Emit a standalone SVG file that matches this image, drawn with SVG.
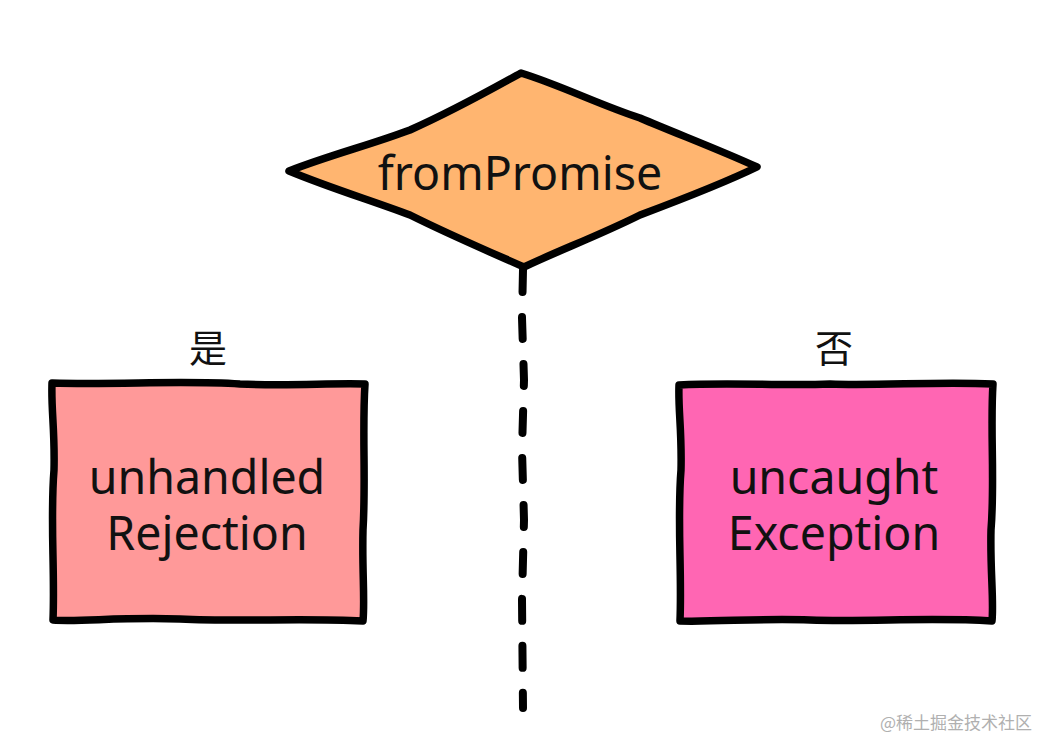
<svg xmlns="http://www.w3.org/2000/svg" width="1046" height="740" viewBox="0 0 1046 740">
<style>
.shape{stroke:#000;stroke-width:7.5;stroke-linejoin:round;stroke-linecap:round}
.t{font-family:"Noto Sans","Open Sans",sans-serif;font-size:46.5px;fill:#111;text-anchor:middle}
.lbl{font-family:"Noto Sans CJK SC",sans-serif;font-size:38px;fill:#111;text-anchor:middle}
.wm{font-family:"Noto Sans CJK SC",sans-serif;font-size:17px;fill:#b0b0b0}
</style>
<rect width="1046" height="740" fill="#fff"/>
<g id="connectors">
<path d="M523,270 L522,318 L524,380 L522,450 L524,520 L522,600 L523,708" fill="none" stroke="#000" stroke-width="8" stroke-linecap="round" stroke-dasharray="22,25"/>
</g>
<g id="decision">
<path class="shape" fill="#FFB570" d="M289,171 C330,155 370,145 410,130 C455,110 490,90 521,73 C560,85 600,105 640,118 C680,135 720,150 757,167 C720,185 680,200 640,215 C600,235 560,250 524,267 C490,252 450,235 410,215 C370,200 330,188 289,171 Z"/>
<text class="t" x="520" y="190">fromPromise</text>
</g>
<g id="yes-label"><text class="lbl" x="208" y="362">是</text></g>
<g id="no-label"><text class="lbl" x="834" y="362">否</text></g>
<g id="unhandled">
<path class="shape" fill="#FF9999" d="M52,383 C120,385 180,380 240,384 C290,386 330,383 365,384 C362,430 366,480 363,530 C362,570 365,600 363,621 C300,618 240,622 180,619 C120,617 80,622 53,620 C55,570 50,520 54,470 C55,430 51,410 52,383 Z"/>
<text class="t" x="207" y="494">unhandled</text>
<text class="t" x="207" y="550">Rejection</text>
</g>
<g id="uncaught">
<path class="shape" fill="#FF66B3" d="M679,385 C730,382 780,386 830,384 C880,386 940,381 993,384 C990,430 995,480 991,530 C990,570 994,600 992,621 C930,617 870,622 810,620 C760,618 720,622 680,621 C682,570 677,520 681,470 C682,430 678,410 679,385 Z"/>
<text class="t" x="834" y="494">uncaught</text>
<text class="t" x="834" y="550">Exception</text>
</g>
<text class="wm" x="880" y="729">@稀土掘金技术社区</text>
</svg>
